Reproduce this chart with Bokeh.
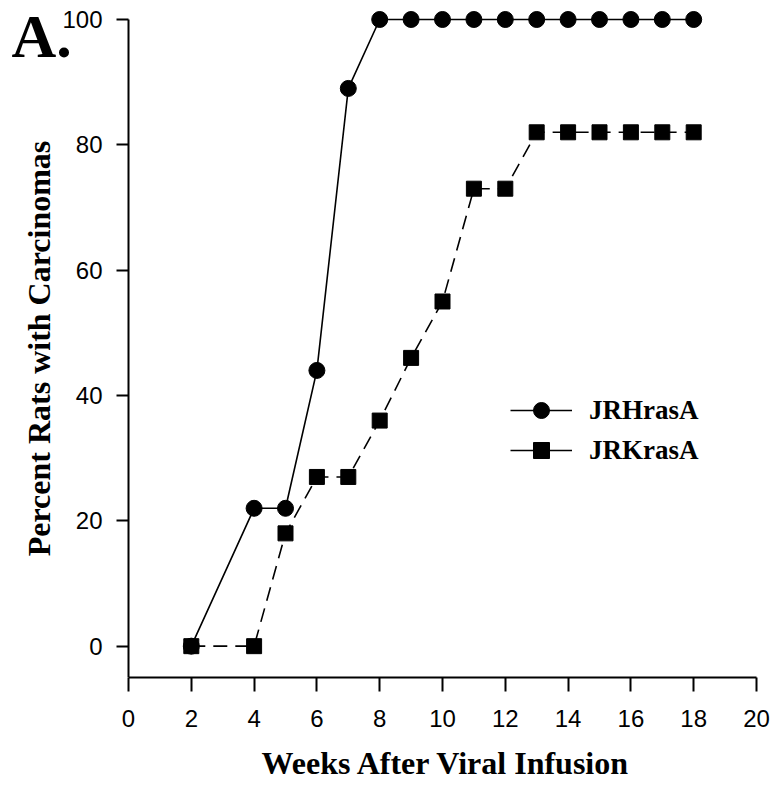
from bokeh.plotting import figure
from bokeh.models import Range1d, Legend, LegendItem, Label, FixedTicker, Title
from bokeh.embed import file_html
from bokeh.resources import INLINE

weeks_h = [2, 4, 5, 6, 7, 8, 9, 10, 11, 12, 13, 14, 15, 16, 17, 18]
jrh = [0, 22, 22, 44, 89, 100, 100, 100, 100, 100, 100, 100, 100, 100, 100, 100]
weeks_k = [2, 4, 5, 6, 7, 8, 9, 10, 11, 12, 13, 14, 15, 16, 17, 18]
jrk = [0, 0, 18, 27, 27, 36, 46, 55, 73, 73, 82, 82, 82, 82, 82, 82]
x_ticks = [0, 2, 4, 6, 8, 10, 12, 14, 16, 18, 20]
y_ticks = [0, 20, 40, 60, 80, 100]

# frame layout (pixels): frame spans whole left side so the "A." panel label is not clipped
W, H = 770, 796
FRAME_LEFT_PAD = 128      # px from frame left to x=0
FRAME_TOP_PAD = 19        # px from frame top to y=100
X_PX = 31.4               # px per week
Y_PX = 6.267              # px per percent

x_start = -FRAME_LEFT_PAD / X_PX
y_end = 100 + FRAME_TOP_PAD / Y_PX

p = figure(width=W, height=H, output_backend="svg", toolbar_location=None,
           x_range=Range1d(x_start, 20), y_range=Range1d(-5, y_end),
           min_border_left=0, min_border_right=14, min_border_top=0, min_border_bottom=119)
p.outline_line_color = None
p.grid.visible = False
p.background_fill_color = "white"

for ax in (p.xaxis[0], p.yaxis[0]):
    ax.axis_line_width = 2
    ax.major_tick_line_width = 2
    ax.major_tick_in = 0
    ax.minor_tick_line_color = None
    ax.major_label_text_font = "Liberation Sans"
    ax.major_label_text_font_size = "24px"
    ax.major_label_text_color = "black"
    ax.axis_label_text_font = "Liberation Serif"
    ax.axis_label_text_font_style = "bold"
    ax.axis_label_text_color = "black"

p.xaxis.ticker = FixedTicker(ticks=x_ticks)
p.xaxis.bounds = (0, 20)
p.xaxis.major_tick_out = 14
p.xaxis.major_label_standoff = 18
p.yaxis.ticker = FixedTicker(ticks=y_ticks)
p.yaxis.bounds = (-5, 100)
p.yaxis.fixed_location = 0
p.yaxis.major_tick_out = 12
p.yaxis.major_label_standoff = 14
p.yaxis.axis_label = "Percent Rats with Carcinomas"
p.yaxis.axis_label_text_font_size = "32px"
p.yaxis.axis_label_standoff = 2

p.add_layout(Title(text="Weeks After Viral Infusion", align="left", offset=261, standoff=26,
                   text_font="Liberation Serif", text_font_style="bold",
                   text_font_size="32px", text_color="black"), "below")

lh = p.line(weeks_h, jrh, line_color="black", line_width=1.6)
sh = p.scatter(weeks_h, jrh, marker="circle", size=16, fill_color="black", line_color="black")
lk = p.line(weeks_k, jrk, line_color="black", line_width=1.6, line_dash="14 8")
sk = p.scatter(weeks_k, jrk, marker="square", size=15, fill_color="black", line_color="black")
lk_key = p.line(x=weeks_k[:1], y=jrk[:1], line_color="black", line_width=1.3)

legend = Legend(items=[LegendItem(label="JRHrasA", renderers=[lh, sh]),
                       LegendItem(label="JRKrasA", renderers=[lk_key, sk])],
                location=(510, 207), glyph_width=62, glyph_height=40, spacing=-3,
                padding=0, margin=0, label_standoff=17,
                border_line_color=None, background_fill_alpha=0,
                label_text_font="Liberation Serif", label_text_font_style="bold",
                label_text_font_size="27px", label_text_color="black")
p.add_layout(legend, "center")

p.add_layout(Label(x=11, y=642, x_units="screen", y_units="screen",
                   text="A.", text_font="Liberation Serif",
                   text_font_style="bold", text_font_size="62px", text_color="black",
                   text_baseline="alphabetic"))

open("out.html", "w").write(file_html(p, INLINE))
